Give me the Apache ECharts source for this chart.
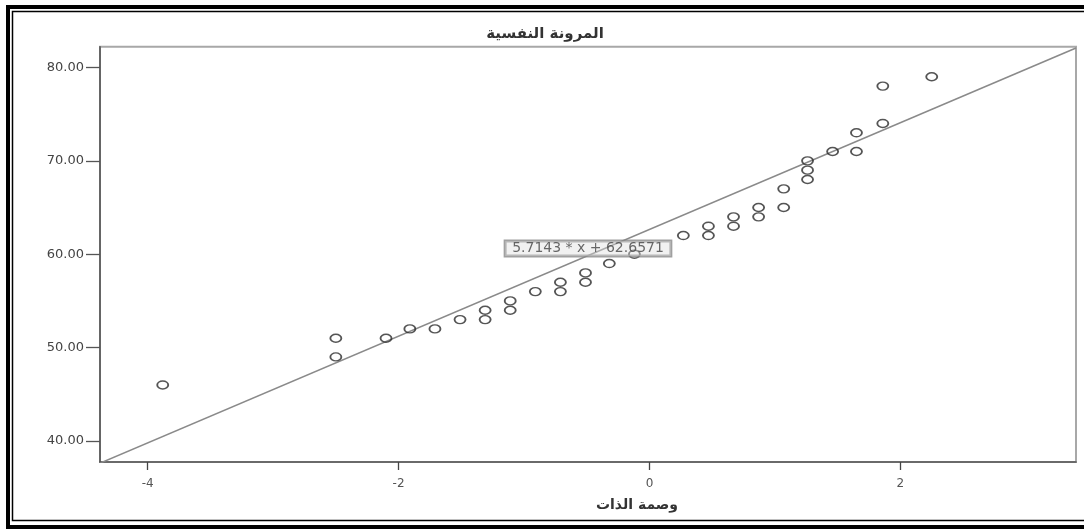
<!DOCTYPE html>
<html>
<head>
<meta charset="utf-8">
<script src="https://cdn.jsdelivr.net/npm/echarts@6/dist/echarts.min.js"></script>
<style>
html,body{margin:0;padding:0;background:#fff;}
#c{width:1084px;height:531px;}
</style>
</head>
<body>
<div id="c"></div>
<script>
// Data
const titleText = 'المرونة النفسية';
const xName = 'وصمة الذات';
const xVals = [-3.88, -2.50, -2.50, -2.10, -1.91, -1.71, -1.51, -1.31, -1.31, -1.11, -1.11, -0.91, -0.71, -0.71, -0.51, -0.51, -0.32, -0.12, 0.27, 0.47, 0.47, 0.67, 0.67, 0.87, 0.87, 1.07, 1.07, 1.26, 1.26, 1.26, 1.46, 1.65, 1.65, 1.86, 1.86, 2.25];
const yVals = [46, 51, 49, 51, 52, 52, 53, 54, 53, 55, 54, 56, 57, 56, 58, 57, 59, 60, 62, 63, 62, 64, 63, 65, 64, 67, 65, 70, 69, 68, 71, 73, 71, 78, 74, 79];
const fitSlope = 5.7143;
const fitIntercept = 62.6571;
const fitLabel = '5.7143 * x + 62.6571';
const yTicks = [40, 50, 60, 70, 80];
const xTicks = [-4, -2, 0, 2];
const xMin = -4.38, xMax = 3.40, yMin = 37.75, yMax = 82.22;

const points = xVals.map((x, i) => [x, yVals[i]]);
const fitLine = [[xMin, fitIntercept + fitSlope * xMin], [xMax, fitIntercept + fitSlope * xMax]];
const labelPos = [-0.49, 60.6];

const chart = echarts.init(document.getElementById('c'), null, {renderer: 'canvas'});
const font = '"DejaVu Sans", "Liberation Sans", sans-serif';
chart.setOption({
  animation: false,
  backgroundColor: '#fff',
  title: {
    text: titleText, left: 540, top: 22, textAlign: 'center',
    textStyle: {fontFamily: font, fontSize: 15, fontWeight: 'bold', color: '#333'}
  },
  grid: {left: 100, right: 8, top: 46.7, bottom: 69, show: true, borderColor: '#a8a8a8', borderWidth: 2, backgroundColor: '#fff'},
  xAxis: {
    type: 'value', min: xMin, max: xMax,
    name: xName, nameLocation: 'middle', nameGap: 36,
    nameTextStyle: {fontFamily: font, fontSize: 14, fontWeight: 'bold', color: '#333', padding: [0, 0, 0, 98]},
    axisLine: {show: true, onZero: false, lineStyle: {color: '#555', width: 1.6}},
    axisTick: {show: true, length: 8, customValues: xTicks, lineStyle: {color: '#444', width: 1.3}},
    axisLabel: {customValues: xTicks, fontFamily: font, fontSize: 12, color: '#555', margin: 16},
    splitLine: {show: false}
  },
  yAxis: {
    type: 'value', min: yMin, max: yMax,
    axisLine: {show: true, onZero: false, lineStyle: {color: '#555', width: 1.6}},
    axisTick: {show: true, length: 14, customValues: yTicks, lineStyle: {color: '#555', width: 1.3}},
    axisLabel: {customValues: yTicks, formatter: v => v.toFixed(2), fontFamily: font, fontSize: 13, color: '#444', margin: 16},
    splitLine: {show: false}
  },
  series: [
    {
      type: 'line', data: fitLine, symbol: 'none', clip: true,
      lineStyle: {color: '#8a8a8a', width: 1.6}, silent: true, z: 2
    },
    {
      type: 'scatter', data: points, symbol: 'circle', symbolSize: [11, 8],
      itemStyle: {color: 'rgba(255,255,255,0)', borderColor: '#2a2a2a', borderWidth: 1.6}, z: 3
    },
    {
      type: 'scatter', data: [labelPos], symbolSize: 0, z: 4, silent: true,
      label: {
        show: true, position: 'inside', formatter: fitLabel,
        fontFamily: font, fontSize: 14, color: '#444',
        backgroundColor: 'rgba(220,220,220,0.5)', borderColor: '#888', borderWidth: 1.5,
        padding: [1, 7, 0, 7]
      }
    }
  ],
  graphic: [
    {type: 'rect', shape: {x: 8, y: 7, width: 1090, height: 520}, style: {fill: 'none', stroke: '#000', lineWidth: 4}, silent: true},
    {type: 'rect', shape: {x: 12.5, y: 11.5, width: 1090, height: 509}, style: {fill: 'none', stroke: '#000', lineWidth: 1.5}, silent: true}
  ]
});
</script>
</body>
</html>
